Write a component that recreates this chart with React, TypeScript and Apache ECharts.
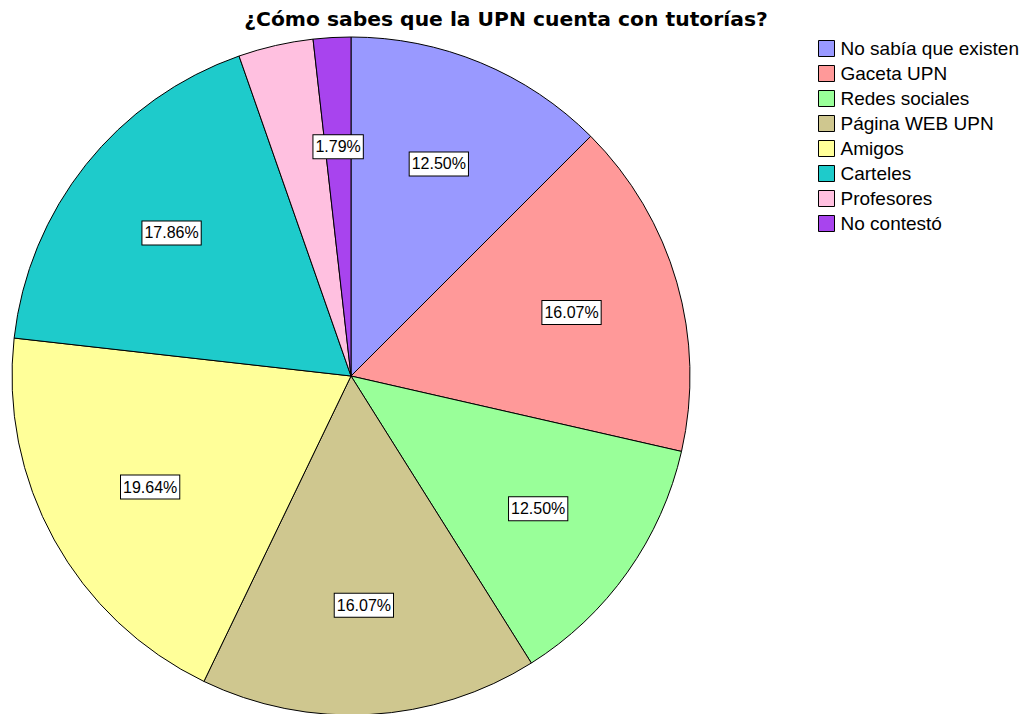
import React, { useEffect, useRef } from "react";
import * as echarts from "echarts";

const categories = [
  "No sabía que existen",
  "Gaceta UPN",
  "Redes sociales",
  "Página WEB UPN",
  "Amigos",
  "Carteles",
  "Profesores",
  "No contestó",
];
const counts = [7, 9, 7, 9, 11, 10, 2, 1];
const colors = ["#9999ff", "#ff9999", "#99ff99", "#cfc78f", "#ffff99", "#1ecbcb", "#ffc0e0", "#a844ee"];
const hiddenLabels = ["Profesores"];

export default function App() {
  const ref = useRef<HTMLDivElement>(null);
  useEffect(() => {
    const chart = echarts.init(ref.current!, null, { renderer: "svg" });
    const total = counts.reduce((a, b) => a + b, 0);
    const data = categories.map((c, i) => ({
      name: c,
      value: counts[i],
      itemStyle: { color: colors[i] },
    }));
    const font = "'Liberation Sans', Arial, sans-serif";
    chart.setOption({
      animation: false,
      backgroundColor: "#ffffff",
      title: {
        text: "¿Cómo sabes que la UPN cuenta con tutorías?",
        left: 501,
        textAlign: "center",
        top: 4,
        textStyle: { fontFamily: "'DejaVu Sans', sans-serif", fontSize: 20.3, fontWeight: "bold", color: "#000" },
      },
      legend: {
        orient: "vertical",
        left: 813,
        top: 34,
        itemWidth: 16,
        itemHeight: 16,
        itemGap: 6,
        icon: "rect",
        data: categories,
        itemStyle: { borderColor: "#000", borderWidth: 1 },
        textStyle: { fontFamily: font, fontSize: 19, color: "#000", padding: [0, 0, 0, 1] },
      },
      series: [
        {
          type: "pie",
          center: [351, 376],
          radius: [0, 339],
          startAngle: 90,
          clockwise: true,
          silent: true,
          data,
          itemStyle: { borderColor: "#000", borderWidth: 1 },
          label: { show: false },
          labelLine: { show: false },
        },
        {
          type: "pie",
          center: [351, 376],
          radius: [114, 339],
          startAngle: 90,
          clockwise: true,
          silent: true,
          legendHoverLink: false,
          data: categories.map((c, i) => ({
            name: c,
            value: counts[i],
            itemStyle: { color: "transparent", borderWidth: 0 },
            label: { show: !hiddenLabels.includes(c) },
          })),
          label: {
            position: "inside",
            formatter: (p: any) => ((p.value / total) * 100).toFixed(2) + "%",
            fontFamily: font,
            fontSize: 16,
            color: "#000",
            backgroundColor: "#fff",
            borderColor: "#000",
            borderWidth: 1,
            padding: [4, 2, 3, 2],
          },
          labelLine: { show: false },
        },
      ],
    });
    return () => chart.dispose();
  }, []);
  return (
    <div
      ref={ref}
      style={{ position: "fixed", left: 0, top: 0, width: 1026, height: 714 }}
    />
  );
}
